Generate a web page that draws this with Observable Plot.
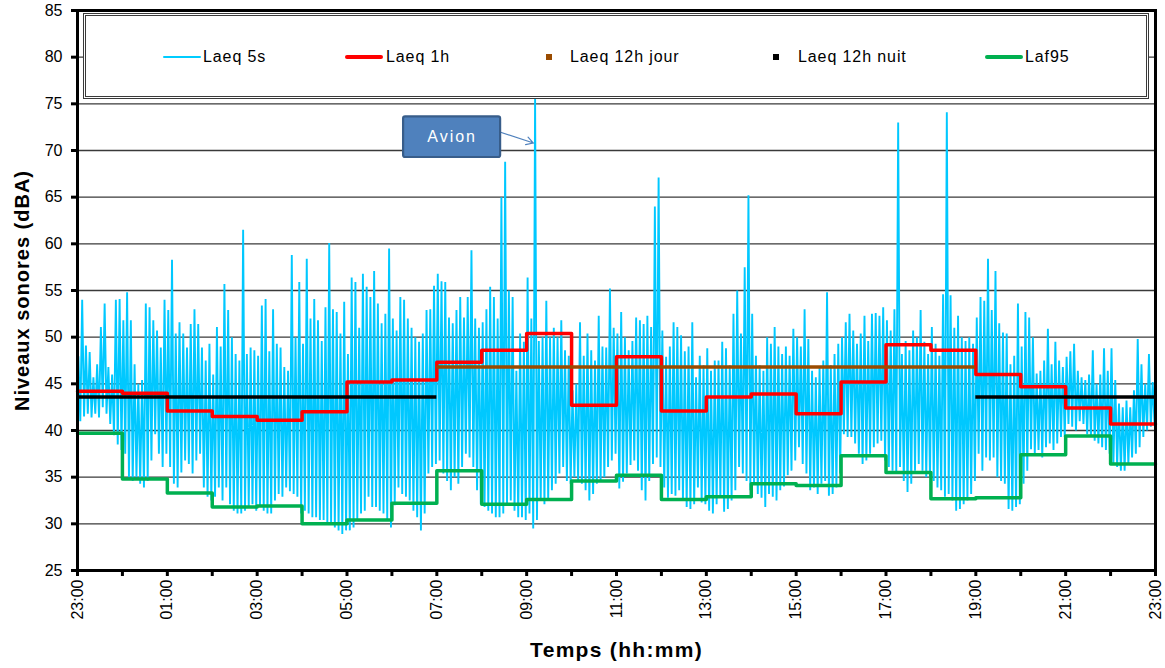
<!DOCTYPE html>
<html>
<head>
<meta charset="utf-8">
<script src="https://cdn.jsdelivr.net/npm/d3@7"></script>
<script src="https://cdn.jsdelivr.net/npm/@observablehq/plot@0.6"></script>
<style>
  body { margin: 0; background: #fff; font-family: "Liberation Sans", Arial, sans-serif; }
  #wrap { position: relative; width: 1165px; height: 668px; overflow: hidden; }
  #wrap svg { display: block; }
  .legbox { position: absolute; left: 83px; top: 13px; width: 1060px; height: 80px; border: 3px double #3a3a3a; background: #fff; }
  .legtext { position: absolute; height: 20px; line-height: 20px; font-size: 16px; letter-spacing: 0.9px; color: #000; white-space: nowrap; }
  .legsym { position: absolute; }
</style>
</head>
<body>
<div id="wrap"></div>
<script>
// ---------- DATA ----------
// x tick labels (hours from 23:00 to 23:00 next day)
const timeLabels = ["23:00","00:00","01:00","02:00","03:00","04:00","05:00","06:00","07:00","08:00","09:00","10:00","11:00",
  "12:00","13:00","14:00","15:00","16:00","17:00","18:00","19:00","20:00","21:00","22:00","23:00"];
const yTicks = [25, 30, 35, 40, 45, 50, 55, 60, 65, 70, 75, 80, 85];

// Laeq 1h (one value per hour, starting 23:00)
const laeq1h = [44.2, 44.0, 42.1, 41.5, 41.1, 42.0, 45.2, 45.4, 47.3, 48.6, 50.4, 42.7,
                47.9, 42.1, 43.6, 43.9, 41.8, 45.2, 49.2, 48.6, 46.0, 44.7, 42.4, 40.7];
// Laf95 (one value per hour, starting 23:00)
const laf95 = [39.7, 34.8, 33.3, 31.8, 31.9, 30.0, 30.4, 32.2, 35.7, 32.1, 32.6, 34.6,
               35.2, 32.6, 32.9, 34.3, 34.1, 37.3, 35.5, 32.7, 32.8, 37.4, 39.4, 36.4];
// Laeq 12h periods (hours after 23:00)
const laeq12hKind  = ["nuit", "jour", "nuit"];
const laeq12hStart = [0, 8, 20];
const laeq12hEnd   = [8, 20, 24];
const laeq12hValue = [43.6, 46.8, 43.6];

// Laeq 5s, read as max / min per 5-minute slot (12 slots per hour, from 23:00)
const laeq5sHigh = [
  47.9, 54.0, 49.1, 48.4, 45.7, 47.1, 51.1, 53.6, 46.8, 46.0, 54.0, 54.1,
  51.8, 54.8, 51.8, 47.1, 45.0, 45.4, 53.6, 53.2, 51.8, 50.7, 48.9, 54.0,
  52.9, 58.3, 50.4, 51.6, 50.4, 48.9, 51.4, 53.0, 51.4, 48.9, 47.5, 49.3,
  46.0, 51.1, 49.0, 55.7, 52.9, 50.0, 48.2, 47.5, 61.5, 48.2, 48.9, 48.6,
  48.0, 53.4, 54.1, 48.5, 53.0, 49.3, 48.9, 46.8, 46.4, 58.8, 50.0, 55.9,
  49.3, 58.4, 52.0, 54.1, 51.8, 49.6, 53.2, 60.1, 53.0, 52.7, 50.4, 53.8,
  48.2, 56.4, 55.9, 51.0, 56.8, 55.4, 54.3, 57.1, 53.6, 51.5, 52.5, 59.5,
  52.0, 50.7, 54.3, 54.0, 52.0, 51.0, 50.0, 49.5, 50.4, 52.9, 53.0, 55.5,
  56.8, 56.0, 55.9, 52.1, 51.5, 52.9, 54.3, 52.1, 54.3, 59.3, 52.0, 51.0,
  51.6, 53.0, 55.4, 54.3, 52.0, 65.0, 68.8, 55.0, 54.3, 46.4, 50.4, 49.5,
  56.4, 52.0, 75.6, 49.6, 50.0, 53.9, 50.0, 51.0, 50.0, 51.8, 48.6, 48.0,
  44.3, 45.0, 51.6, 48.0, 50.4, 48.6, 47.5, 52.3, 49.0, 48.9, 55.2, 51.0,
  50.4, 52.7, 50.0, 48.6, 49.6, 52.1, 51.8, 51.4, 52.3, 51.1, 64.0, 67.1,
  50.7, 47.9, 49.0, 51.6, 51.1, 50.2, 48.5, 49.0, 51.6, 45.7, 48.0, 47.0,
  48.8, 46.4, 47.5, 47.5, 49.5, 48.8, 47.0, 52.5, 55.0, 50.4, 57.5, 65.2,
  52.5, 48.0, 47.0, 46.4, 50.0, 49.3, 51.1, 49.0, 48.2, 49.0, 48.0, 50.9,
  50.0, 49.0, 53.0, 49.8, 46.4, 45.7, 46.8, 47.5, 54.8, 47.0, 48.2, 49.3,
  50.0, 51.6, 52.5, 50.7, 49.3, 50.4, 52.3, 49.6, 52.5, 52.6, 52.3, 53.2,
  51.8, 50.7, 53.0, 73.0, 48.2, 49.6, 48.6, 50.7, 50.0, 52.9, 49.5, 48.2,
  51.1, 49.3, 48.0, 54.6, 74.1, 54.5, 51.0, 52.3, 50.0, 49.6, 50.0, 49.3,
  52.1, 54.3, 53.9, 58.4, 52.9, 57.1, 51.5, 50.5, 50.4, 47.1, 48.0, 53.6,
  49.0, 52.7, 52.1, 50.0, 46.1, 46.4, 47.5, 50.9, 47.1, 49.5, 47.5, 46.8,
  47.9, 48.5, 49.3, 46.4, 45.7, 45.4, 46.0, 48.6, 45.0, 46.0, 48.8, 46.4,
  48.8, 45.4, 42.9, 42.5, 43.2, 42.5, 44.3, 49.8, 47.1, 45.0, 48.2, 45.2
];
const laeq5sLow = [
  41.0, 41.5, 41.8, 41.4, 41.8, 41.4, 42.5, 41.8, 40.7, 39.5, 38.5, 37.9,
  37.5, 35.0, 34.6, 35.0, 34.3, 33.9, 34.6, 36.8, 39.6, 37.5, 36.1, 37.5,
  36.1, 34.3, 33.9, 35.5, 36.8, 36.4, 35.4, 36.8, 37.5, 33.9, 32.9, 32.5,
  32.9, 33.9, 32.5, 33.9, 32.1, 31.4, 31.1, 31.1, 31.4, 31.8, 32.1, 31.4,
  31.8, 31.4, 31.1, 31.1, 32.5, 33.2, 32.9, 33.9, 33.5, 33.2, 32.9, 31.1,
  31.4, 31.1, 30.7, 30.7, 30.4, 30.4, 30.0, 30.0, 29.6, 29.3, 28.9, 29.3,
  29.3, 29.6, 30.4, 31.1, 31.4, 32.9, 31.8, 31.8, 31.4, 31.1, 30.4, 29.6,
  32.0, 33.9, 33.2, 32.9, 32.5, 31.4, 30.7, 29.3, 31.1, 35.4, 36.1, 36.4,
  36.8, 35.4, 34.6, 33.6, 35.0, 34.3, 36.1, 37.5, 37.1, 36.1, 33.6, 32.1,
  31.8, 31.4, 31.1, 30.7, 30.7, 31.1, 32.1, 32.5, 31.4, 30.7, 30.7, 30.4,
  31.1, 29.5, 30.4, 32.5, 32.1, 32.5, 33.6, 34.3, 35.4, 36.1, 34.6, 34.3,
  35.0, 34.6, 34.3, 33.6, 32.5, 33.2, 34.3, 34.6, 35.0, 36.1, 36.8, 37.5,
  33.8, 34.5, 35.4, 36.3, 36.8, 35.7, 33.6, 32.5, 34.6, 36.4, 37.1, 36.1,
  33.9, 32.8, 33.2, 33.0, 33.6, 32.5, 31.8, 31.6, 32.1, 33.9, 32.3, 32.1,
  31.4, 31.1, 32.1, 32.8, 31.3, 31.6, 32.5, 33.6, 36.1, 35.4, 34.6, 33.6,
  34.3, 33.2, 32.8, 31.8, 33.2, 32.9, 32.5, 33.6, 34.0, 35.2, 35.7, 36.8,
  38.2, 36.4, 35.4, 33.6, 33.9, 33.2, 34.3, 34.6, 33.0, 33.2, 33.9, 35.4,
  39.6, 39.3, 39.3, 38.6, 37.5, 36.4, 36.8, 37.5, 38.2, 38.6, 38.9, 36.8,
  36.1, 35.7, 35.4, 36.1, 34.6, 33.4, 34.3, 35.7, 36.4, 35.7, 35.0, 35.0,
  34.6, 33.9, 33.6, 32.9, 33.2, 32.5, 31.4, 31.6, 32.1, 32.5, 33.2, 34.6,
  37.5, 35.7, 37.1, 36.8, 37.1, 35.0, 34.6, 34.3, 31.6, 31.4, 31.8, 32.1,
  34.3, 35.7, 38.0, 37.5, 37.9, 37.1, 38.2, 38.6, 37.9, 38.6, 39.3, 39.3,
  40.7, 40.4, 40.0, 41.0, 40.7, 39.6, 39.3, 38.9, 38.6, 38.2, 37.9, 37.5,
  36.4, 36.1, 35.7, 35.7, 36.4, 37.1, 37.5, 38.2, 39.3, 40.0, 40.4, 40.7
];

// Annotation "Avion" (data units: hours after 23:00, dBA)
const avionLabel = "Avion";
const avionBox = {x1: 7.26, x2: 9.42, y1: 69.25, y2: 73.6};
const avionArrow = {x1: 9.2, y1: 72.3, x2: 10.15, y2: 70.8};

// Legend
const legendLabels  = ["Laeq 5s", "Laeq 1h", "Laeq 12h jour", "Laeq 12h nuit", "Laf95"];
const legendColors  = ["#00ccff", "#ff0000", "#9a4b00", "#000000", "#00b050"];
const legendSymbols = ["line", "line", "square", "square", "line"];

// ---------- DERIVED TABLES ----------
const series5s = [];
laeq5sHigh.forEach((hi, i) => {
  series5s.push({t: (i * 5 + 1.25) / 60, v: hi});
  series5s.push({t: (i * 5 + 3.75) / 60, v: laeq5sLow[i]});
});
const stepRows = arr => arr.map((v, i) => ({t: i, v})).concat([{t: arr.length, v: arr[arr.length - 1]}]);
const rows12h = laeq12hKind.map((k, i) => ({kind: k, start: laeq12hStart[i], end: laeq12hEnd[i], v: laeq12hValue[i]}));
const hours = d3.range(timeLabels.length);

const font = "Liberation Sans, Arial, Helvetica, sans-serif";

const plot = Plot.plot({
  width: 1165,
  height: 668,
  marginLeft: 77,
  marginRight: 10,
  marginTop: 10,
  marginBottom: 98,
  style: {fontFamily: font, fontSize: "16px", color: "#000", background: "#fff"},
  x: {domain: [0, 24]},
  y: {domain: [25, 85]},
  marks: [
    Plot.gridY(yTicks, {stroke: "#3a3a3a", strokeOpacity: 1, strokeWidth: 1.3}),
    Plot.line(series5s, {x: "t", y: "v", stroke: "#00c8ff", strokeWidth: 1.9, strokeLinejoin: "miter", strokeMiterlimit: 1}),
    Plot.line(stepRows(laeq1h), {x: "t", y: "v", curve: "step-after", stroke: "#ff0000", strokeWidth: 3.5}),
    Plot.line(stepRows(laf95), {x: "t", y: "v", curve: "step-after", stroke: "#00b050", strokeWidth: 3.5}),
    Plot.ruleY(rows12h.filter(d => d.kind === "jour"), {y: "v", x1: "start", x2: "end", stroke: "#9a4b00", strokeWidth: 3.5}),
    Plot.ruleY(rows12h.filter(d => d.kind === "nuit"), {y: "v", x1: "start", x2: "end", stroke: "#000", strokeWidth: 3.5}),
    Plot.arrow([avionArrow], {x1: "x1", y1: "y1", x2: "x2", y2: "y2", stroke: "#4f81bd", strokeWidth: 1.2, headLength: 10, bend: false}),
    Plot.rect([avionBox], {x1: "x1", x2: "x2", y1: "y1", y2: "y2", fill: "#4f81bd", stroke: "#385d8a", strokeWidth: 2.2, rx: 2}),
    Plot.text([avionBox], {x: d => (d.x1 + d.x2) / 2, y: d => (d.y1 + d.y2) / 2, text: () => avionLabel, fill: "#fff", fontSize: 16}),
    Plot.axisY(yTicks, {tickSize: 6, tickPadding: 9, strokeWidth: 3, fontSize: 16, label: null}),
    Plot.axisX(hours, {tickSize: 6, tickPadding: 3, tickRotate: -90, strokeWidth: 3, fontSize: 16, label: null,
      tickFormat: h => (h % 2 === 0 ? timeLabels[h] : "")}),
    Plot.frame({stroke: "#000", strokeWidth: 3}),
    Plot.text(["Temps (hh:mm)"], {frameAnchor: "bottom", dy: 86, fontSize: 21, fontWeight: "bold"}),
    Plot.text(["Niveaux sonores (dBA)"], {frameAnchor: "left", dx: -55, rotate: -90, textAnchor: "middle", fontSize: 20, fontWeight: "bold"})
  ]
});

const wrap = document.getElementById("wrap");
wrap.appendChild(plot);

// letter spacing tweaks for titles / annotation
plot.querySelectorAll("text").forEach(t => {
  const s = t.textContent;
  if (s === "Temps (hh:mm)") t.setAttribute("letter-spacing", "1.3");
  if (s === "Niveaux sonores (dBA)") t.setAttribute("letter-spacing", "1");
  if (s === avionLabel) t.setAttribute("letter-spacing", "2");
});

// legend (inside plot area, top)
const box = document.createElement("div");
box.className = "legbox";
wrap.appendChild(box);
const symX  = [163, 345, 546, 773, 985];
const textX = [203, 386, 570, 798, 1025];
const legY = 57;
legendLabels.forEach((lab, i) => {
  const sym = document.createElement("div");
  sym.className = "legsym";
  if (legendSymbols[i] === "line") {
    const w = 38, h = i === 0 ? 2 : 4;
    Object.assign(sym.style, {left: symX[i] + "px", top: (legY - h / 2) + "px", width: w + "px", height: h + "px", background: legendColors[i], borderRadius: "2px"});
  } else {
    Object.assign(sym.style, {left: symX[i] + "px", top: (legY - 3) + "px", width: "6px", height: "6px", background: legendColors[i]});
  }
  wrap.appendChild(sym);
  const tx = document.createElement("div");
  tx.className = "legtext";
  tx.textContent = lab;
  Object.assign(tx.style, {left: textX[i] + "px", top: (legY - 10) + "px"});
  wrap.appendChild(tx);
});
</script>
</body>
</html>
